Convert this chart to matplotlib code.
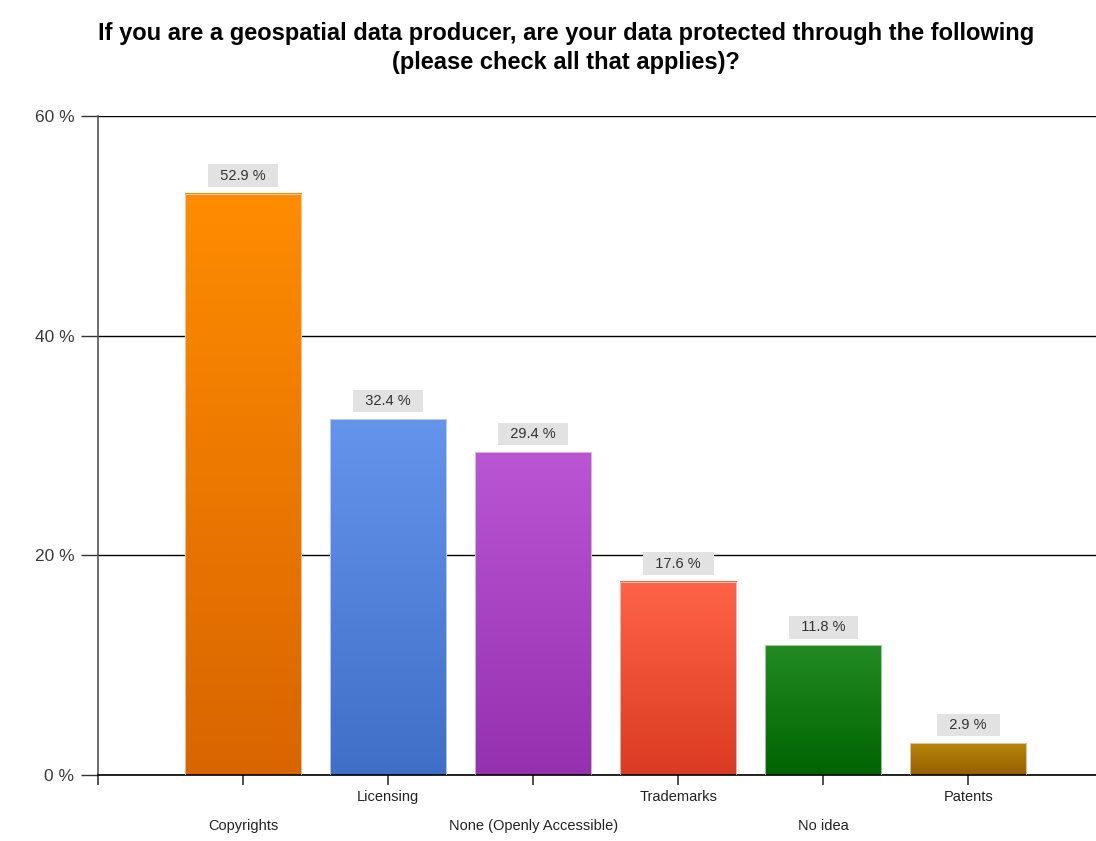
import numpy as np
import matplotlib.pyplot as plt
from matplotlib.colors import LinearSegmentedColormap

plt.rcParams['font.family'] = ['Liberation Sans', 'DejaVu Sans']

# Dati
categories = ['Copyrights', 'Licensing', 'None (Openly Accessible)', 'Trademarks', 'No idea', 'Patents']
values = [52.9, 32.4, 29.4, 17.6, 11.8, 2.9]
top_colors = ['#FF8C00', '#6495ED', '#BA55D3', '#FF6347', '#228B22', '#B8860B']
bottom_colors = ['#D86500', '#3F6FC6', '#9530AE', '#DA3B22', '#006400', '#966000']

fig = plt.figure(figsize=(10.96, 8.41), dpi=100)
ax = fig.add_axes([98 / 1096, 1 - 775 / 841, 1 - 98 / 1096, (775 - 116) / 841])

x = np.arange(len(categories))
bars = ax.bar(x, values, width=0.8, color='none', edgecolor='#e4e4e4', linewidth=0.5, zorder=3)

# Gradiente verticale per ogni barra
grad = np.linspace(0, 1, 256).reshape(-1, 1)
for b, c0, c1 in zip(bars, top_colors, bottom_colors):
    cmap = LinearSegmentedColormap.from_list('g', [c1, c0])
    x0, w, h = b.get_x(), b.get_width(), b.get_height()
    ax.imshow(grad, cmap=cmap, origin='lower', aspect='auto',
              extent=(x0, x0 + w, 0, h), zorder=2)

# Etichette sopra le barre
for b, v in zip(bars, values):
    ax.annotate(f'  {v} %  ', (b.get_x() + b.get_width() / 2, v),
                xytext=(0, 8), textcoords='offset points', ha='center', va='bottom',
                fontsize=10.5, color='#333333', fontstretch='condensed',
                bbox=dict(boxstyle='square,pad=0.3', fc='#e2e2e2', ec='none'), zorder=5)

ax.set_xlim(-1, 5.88)
ax.set_ylim(0, 60)
ax.set_yticks([0, 20, 40, 60])
ax.set_yticklabels(['0 %', '20 %', '40 %', '60 %'], fontsize=12.5, color='#3a3a3a')
ax.yaxis.grid(True, color='black', linewidth=1, zorder=1)
ax.set_axisbelow(True)

ax.set_xticks(np.append(-1, x))
ax.set_xticklabels([''] + [''] * len(categories))
ax.tick_params(axis='x', length=7, width=1.2, color='#333333')
ax.tick_params(axis='y', length=12, width=1, color='#333333', pad=5)

# Etichette asse x sfalsate
for i, cat in enumerate(categories):
    yoff = -0.033 if i % 2 == 1 else -0.077
    ax.text(i, yoff, cat, transform=ax.get_xaxis_transform(), ha='center', va='center',
            fontsize=10.5, color='#222222', fontstretch='condensed')

for s in ['top', 'right']:
    ax.spines[s].set_visible(False)
ax.spines['left'].set_color('#555555')
ax.spines['left'].set_linewidth(1.2)
ax.spines['bottom'].set_color('black')
ax.spines['bottom'].set_linewidth(1.2)

fig.text(566 / 1096, 1 - 48 / 841,
         'If you are a geospatial data producer, are your data protected through the following\n(please check all that applies)?',
         ha='center', va='center', fontsize=17, fontweight='bold', linespacing=1.3)

fig.savefig('out.png', dpi=100)
